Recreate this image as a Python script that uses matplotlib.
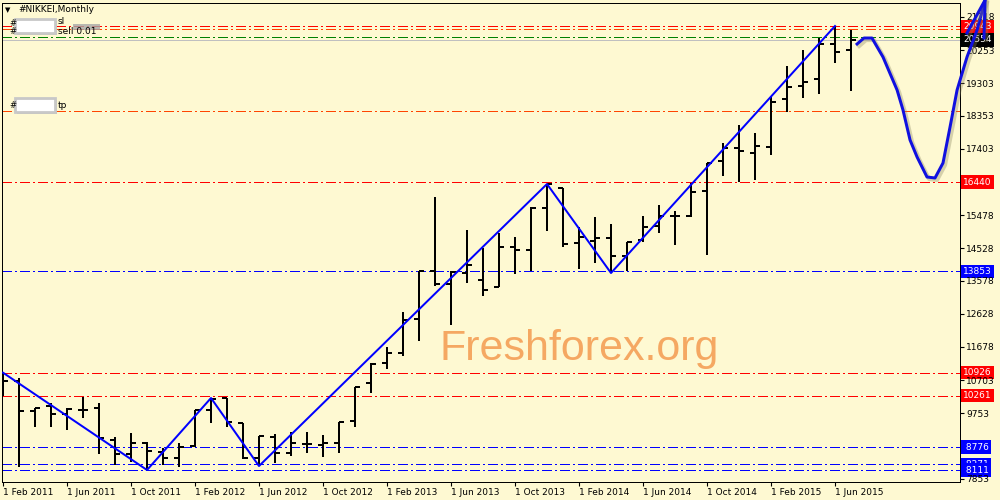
import matplotlib
matplotlib.use("Agg")
import matplotlib.pyplot as plt
import matplotlib.patheffects as pe
from matplotlib.transforms import blended_transform_factory
from matplotlib.patches import Rectangle
import pandas as pd


# ====================================
# DATA  (monthly bars, Feb 2011 - Jul 2015)
# ====================================

opens = [10270, 10684, 9817, 9962, 9730, 9846, 9904, 8979, 8573, 8892,
         8631, 8458, 8805, 9846, 10193, 9470, 8458, 9065, 8602, 8863,
         8834, 8892, 9528, 10627, 11201, 11495, 12478, 13866, 13490, 13808,
         13606, 13403, 14560, 14473, 15688, 16266, 14676, 14733, 14820, 14300,
         14762, 15167, 15456, 15456, 16180, 17047, 17423, 17279, 17452, 18840,
         19216, 19419, 20431, 20257]

highs = [10926, 10771, 9904, 10048, 9904, 10222, 10048, 9065, 9181, 8921,
         8747, 8892, 9846, 10193, 10193, 9470, 9094, 9152, 9210, 9210,
         9123, 9499, 10511, 11201, 11668, 12681, 13866, 16000, 13866, 15052,
         14531, 14965, 14849, 15717, 16382, 16266, 15138, 15428, 15225, 14704,
         15456, 15775, 15601, 16411, 16989, 17568, 18088, 17857, 18898, 19795,
         20257, 20604, 20951, 20836]

lows = [10261, 8197, 9355, 9355, 9268, 9614, 8573, 8255, 8342, 8111,
        8255, 8197, 8776, 9470, 9355, 8429, 8226, 8313, 8515, 8602,
        8486, 8602, 9355, 10338, 11028, 11408, 11842, 13432, 12305, 13519,
        13143, 13403, 13779, 13866, 15023, 14560, 13924, 14097, 13808, 13866,
        14704, 14965, 14618, 15428, 14329, 16613, 16440, 16498, 17221, 18464,
        18869, 18985, 19881, 19072]

closes = [10684, 9817, 9904, 9730, 9875, 9846, 9036, 8573, 8892, 8660,
          8458, 8776, 9846, 10164, 9499, 8458, 9094, 8602, 8892, 8863,
          8892, 9499, 10511, 11172, 11495, 12449, 13866, 13490, 13837, 14039,
          13316, 14560, 14473, 15688, 16382, 14647, 14849, 14820, 14300, 14704,
          15138, 15456, 15456, 16151, 16989, 17423, 17336, 17481, 18754, 19187,
          19332, 20431, 20200, 20554]

months = pd.date_range("2011-02-01", periods=len(closes), freq="MS")

# zigzag turning points (bar index, high/low)
zz_index = [0, 9, 13, 16, 34, 38, 52]
zz_kind = ["H", "L", "H", "L", "H", "L", "H"]

# hand drawn forecast (bar position, price)
fc_pos = [53.38, 53.81, 54.31, 55.0, 55.88, 56.25, 56.69, 57.13, 57.75,
          58.25, 58.75, 59.19, 59.63, 60.25, 60.88, 61.38]
fc_price = [20431, 20604, 20604, 20055, 19101, 18522, 17655, 17163, 16585,
            16556, 16990, 18031, 19101, 20055, 20836, 21703]
arrow_pos = [60.25, 61.38, 61.31]
arrow_price = [20749, 21703, 20604]

# horizontal levels
level_prices = [20943, 20870, 20630, 18490, 16440, 13853, 10926, 10261, 8776, 8271, 8111]
level_colors = ["#FF0000", "#FF4500", "#008000", "#FF4500", "#FF0000", "#0000FF",
                "#FF0000", "#FF0000", "#0000FF", "#0000FF", "#0000FF"]
level_labelled = [True, False, False, False, True, True, True, True, True, True, True]

bid = 20554

ytick_values = [21218, 20253, 19303, 18353, 17403, 15478, 14528, 13578,
                12628, 11678, 10703, 9753, 7853]


# ====================================
# FIGURE
# ====================================

plt.rcParams["lines.scale_dashes"] = False
plt.rcParams["font.family"] = ["DejaVu Sans"]

BG = "#FEF9D2"
PX = 0.72  # points per pixel at dpi 100

fig = plt.figure(figsize=(10, 5), dpi=100, facecolor=BG)
ax = fig.add_axes([0.002, 0.036, 0.958, 0.958])
ax.set_facecolor(BG)

ax.set_xlim(-0.0625, 59.8125)
ax.set_ylim(7764, 21617)

for s in ax.spines.values():
    s.set_color("black")
    s.set_linewidth(1 * PX)

dashdot = (0, (10 * PX, 4 * PX, 2 * PX, 4 * PX))

# levels
for price, color in zip(level_prices, level_colors):
    ax.axhline(price, color=color, lw=1 * PX, ls=dashdot, zorder=1,
               antialiased=False)

ax.axhline(bid, color="#C0C0C0", lw=1 * PX, zorder=1, antialiased=False)

# bars
x = list(range(len(closes)))
tick_len = 0.3
ax.vlines(x, lows, highs, color="black", lw=2 * PX, zorder=3, antialiased=False)
ax.hlines(opens, [i - tick_len for i in x], x, color="black", lw=2 * PX, zorder=3,
          antialiased=False)
ax.hlines(closes, x, [i + tick_len for i in x], color="black", lw=2 * PX, zorder=3,
          antialiased=False)

# zigzag
zz_y = [highs[i] if k == "H" else lows[i] for i, k in zip(zz_index, zz_kind)]
ax.plot(zz_index, zz_y, color="#0000FF", lw=2 * PX, zorder=4)

# forecast curve (spills out of plot, like the hand drawing)
shadow = [pe.SimpleLineShadow(offset=(1.5, -1.5), shadow_color="#8A8660", alpha=0.35,
                              linewidth=4 * PX), pe.Normal()]
ax.plot(fc_pos, fc_price, color="#1010E0", lw=3 * PX, zorder=5, clip_on=False,
        solid_joinstyle="round", path_effects=shadow)
ax.plot(arrow_pos, arrow_price, color="#1010E0", lw=3 * PX, zorder=5, clip_on=False,
        path_effects=shadow)

# watermark
ax.text(0.602, 0.2555, "Freshforex.org", transform=ax.transAxes, ha="center",
        va="baseline", fontsize=31, color="#F5A862", family="Liberation Sans", zorder=2)

# ====================================
# AXES / TICKS
# ====================================

ax.yaxis.tick_right()
ax.set_yticks(ytick_values)
ax.set_yticklabels([str(v) for v in ytick_values])
ax.tick_params(axis="y", direction="out", length=3, width=0.8, pad=1.5,
               labelsize=6.5, colors="black")

xt = list(range(0, len(closes), 4))
ax.set_xticks(xt)
ax.set_xticklabels(["1 " + months[i].strftime("%b %Y") for i in xt])
ax.tick_params(axis="x", direction="out", length=3, width=0.8, pad=1.5,
               labelsize=6.5, colors="black")
for lab in ax.get_xticklabels():
    lab.set_ha("left")

# price labels on the right scale
tr = blended_transform_factory(ax.transAxes, ax.transData)
for price, color, lab in zip(level_prices, level_colors, level_labelled):
    if lab:
        ax.text(1.003, price, f"{price:>5}", transform=tr, color="white",
                fontsize=6.5, ha="left", va="center", clip_on=False, zorder=0.5,
                bbox=dict(boxstyle="square,pad=0.25", fc=color, ec="none"))
ax.text(1.003, bid, str(bid), transform=tr, color="white", fontsize=6.5,
        ha="left", va="center", clip_on=False, zorder=0.5,
        bbox=dict(boxstyle="square,pad=0.25", fc="black", ec="none"))

# ====================================
# TOP-LEFT INFO
# ====================================

def fx(px):
    return px / 1000


def fy(py):
    return 1 - py / 500


fig.text(fx(5), fy(10), "\u25BC", fontsize=5, va="center", ha="left")
fig.text(fx(18), fy(10), "#NIKKEI,Monthly", fontsize=6.5, va="center", ha="left")

for top, h in [(19, 14), (98, 14)]:
    box = Rectangle((fx(15), fy(top + h)), fx(40), h / 500, transform=fig.transFigure,
                    fc="white", ec="#C8C8C8", lw=2,
                    path_effects=[pe.withSimplePatchShadow(offset=(1.5, -1.5),
                                                           shadow_rgbFace="#888888",
                                                           alpha=0.5)])
    fig.patches.append(box)

small = Rectangle((fx(73), fy(30)), fx(27), 6 / 500, transform=fig.transFigure,
                  fc="#A8A8A8", ec="none", alpha=0.8)
fig.patches.append(small)

fig.text(fx(9), fy(23), "#", fontsize=6, va="center")
fig.text(fx(9), fy(31), "#", fontsize=6, va="center")
fig.text(fx(9), fy(106), "#", fontsize=6, va="center")
fig.text(fx(58), fy(22), "sl", fontsize=6.5, va="center")
fig.text(fx(58), fy(31), "sell 0.01", fontsize=6.5, va="center")
fig.text(fx(58), fy(106), "tp", fontsize=6.5, va="center")

plt.savefig("out.png", dpi=100, facecolor=BG)
